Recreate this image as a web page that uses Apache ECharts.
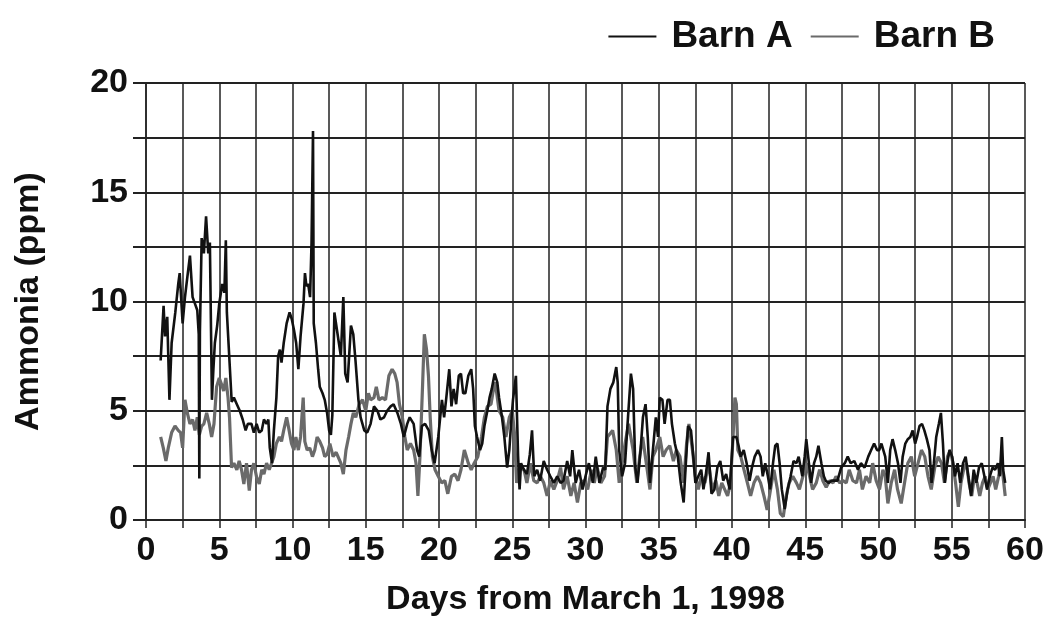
<!DOCTYPE html>
<html>
<head>
<meta charset="utf-8">
<script src="https://cdn.jsdelivr.net/npm/echarts@6/dist/echarts.min.js"></script>
<style>
  html, body { margin: 0; padding: 0; background: #fff; }
  #chart { width: 1050px; height: 639px; }
</style>
</head>
<body>
<div id="chart"></div>
<script>
// Ammonia concentration, [day from March 1 1998, ppm]
const barnA = [
  [1.0,7.3],[1.2,9.8],[1.3,8.4],[1.45,9.3],[1.6,5.5],[1.75,8.1],[2.0,9.5],[2.2,10.8],[2.3,11.3],[2.5,9.0],
  [2.66,10.2],[2.82,11.1],[3.0,12.1],[3.18,10.2],[3.34,9.9],[3.5,9.6],[3.6,8.5],[3.64,1.9],[3.68,8.6],[3.8,12.9],
  [3.95,12.2],[4.1,13.9],[4.25,12.2],[4.36,12.7],[4.5,5.5],[4.6,6.9],[4.7,8.1],[4.86,8.9],[5.0,9.9],[5.2,10.8],
  [5.35,10.4],[5.45,12.8],[5.52,9.5],[5.85,5.4],[6.0,5.6],[6.2,5.3],[6.4,5.0],[6.6,4.6],[6.8,4.1],[6.95,4.4],
  [7.2,4.4],[7.36,4.0],[7.55,4.4],[7.73,4.0],[7.9,4.1],[8.05,4.6],[8.23,4.4],[8.35,4.6],[8.45,3.3],[8.6,2.6],
  [8.73,4.1],[8.9,5.6],[9.02,7.5],[9.14,7.8],[9.25,7.2],[9.4,8.1],[9.6,9.0],[9.8,9.5],[9.95,9.2],[10.1,8.7],
  [10.25,8.1],[10.4,6.9],[10.55,8.4],[10.75,9.9],[10.85,11.3],[10.95,10.7],[11.07,10.8],[11.2,10.2],[11.3,12.7],[11.4,17.8],
  [11.45,9.0],[11.6,8.1],[11.75,6.9],[11.86,6.1],[12.05,5.8],[12.2,5.5],[12.36,4.9],[12.5,4.1],[12.62,3.9],[12.72,4.8],
  [12.86,9.5],[13.1,8.4],[13.3,7.5],[13.47,10.2],[13.6,6.7],[13.76,6.3],[13.99,8.9],[14.15,8.5],[14.3,7.3],[14.5,5.5],
  [14.65,4.7],[14.9,4.1],[15.1,4.0],[15.33,4.4],[15.56,5.2],[15.8,5.0],[16.0,4.6],[16.25,4.7],[16.46,5.0],[16.7,5.2],
  [16.9,5.3],[17.16,4.9],[17.4,4.4],[17.6,3.8],[17.83,4.4],[18.0,4.7],[18.27,4.4],[18.5,3.2],[18.65,2.9],[18.83,4.3],
  [19.05,4.4],[19.3,4.1],[19.5,3.2],[19.7,2.6],[19.95,3.8],[20.2,5.5],[20.35,4.7],[20.5,5.6],[20.7,6.9],[20.85,5.2],
  [21.0,6.0],[21.17,5.3],[21.35,6.6],[21.5,6.7],[21.65,5.8],[21.8,5.8],[22.0,6.6],[22.2,6.9],[22.33,6.0],[22.45,4.3],
  [22.6,3.8],[22.8,3.2],[22.95,3.5],[23.1,4.3],[23.3,5.0],[23.45,5.6],[23.6,6.0],[23.8,6.7],[23.98,6.3],[24.1,5.6],
  [24.3,4.7],[24.46,3.8],[24.65,2.4],[24.8,3.2],[24.92,4.4],[25.05,5.5],[25.25,6.6],[25.4,2.9],[25.5,1.4],[25.6,2.6],
  [25.8,2.3],[26.0,2.1],[26.2,3.0],[26.35,4.1],[26.5,2.0],[26.7,2.3],[26.9,1.8],[27.15,2.7],[27.38,2.3],[27.6,2.0],
  [27.84,1.7],[28.07,2.0],[28.3,1.7],[28.5,1.8],[28.75,2.7],[28.95,2.0],[29.1,3.2],[29.33,1.7],[29.56,2.3],[29.8,1.4],
  [30.0,2.0],[30.23,2.6],[30.5,1.7],[30.7,2.9],[30.95,1.7],[31.2,2.4],[31.35,2.3],[31.5,5.2],[31.7,6.0],[31.9,6.3],
  [32.1,7.0],[32.2,6.3],[32.3,3.2],[32.5,2.0],[32.7,2.6],[32.9,4.7],[33.1,6.7],[33.25,6.0],[33.4,2.4],[33.55,1.7],
  [33.76,3.2],[33.92,4.7],[34.1,5.3],[34.25,3.8],[34.4,1.7],[34.6,3.2],[34.8,4.7],[34.95,3.8],[35.07,5.6],[35.25,5.5],
  [35.4,4.4],[35.6,5.5],[35.76,5.5],[35.9,4.4],[36.1,3.5],[36.3,2.9],[36.5,1.7],[36.7,0.8],[36.85,2.6],[37.0,4.3],
  [37.2,4.1],[37.36,2.9],[37.5,1.7],[37.7,2.0],[37.9,2.3],[38.05,1.4],[38.2,2.0],[38.4,3.1],[38.6,1.2],[38.8,1.4],
  [39.0,2.4],[39.2,2.7],[39.4,1.8],[39.6,2.1],[39.85,1.4],[40.07,3.8],[40.3,3.8],[40.45,3.4],[40.6,2.9],[40.8,3.2],
  [41.0,2.6],[41.2,1.8],[41.36,2.4],[41.55,2.9],[41.77,3.2],[41.95,2.9],[42.1,2.0],[42.27,2.6],[42.45,2.0],[42.6,1.4],
  [42.8,2.6],[42.95,3.4],[43.1,3.5],[43.25,2.6],[43.4,1.4],[43.6,0.5],[43.8,1.4],[44.0,2.0],[44.2,2.7],[44.4,2.6],
  [44.55,2.9],[44.8,2.0],[44.96,2.9],[45.07,3.7],[45.25,2.6],[45.4,1.7],[45.6,2.6],[45.75,2.9],[45.9,3.4],[46.1,2.6],
  [46.27,2.0],[46.4,1.8],[46.6,1.7],[46.8,1.8],[47.0,1.8],[47.2,1.8],[47.45,2.4],[47.7,2.6],[47.9,2.9],[48.1,2.6],
  [48.35,2.7],[48.6,2.3],[48.8,2.6],[49.05,2.4],[49.3,2.9],[49.5,3.2],[49.7,3.5],[49.9,3.2],[50.05,3.2],[50.2,3.5],
  [50.46,2.9],[50.64,1.7],[50.8,3.2],[50.96,3.7],[51.14,3.2],[51.33,2.6],[51.5,1.7],[51.65,2.9],[51.83,3.5],[52.0,3.7],
  [52.17,3.8],[52.33,4.1],[52.5,3.5],[52.63,3.8],[52.8,4.3],[52.97,4.4],[53.13,4.1],[53.3,3.7],[53.48,3.2],[53.62,1.7],
  [53.78,2.6],[53.94,3.8],[54.12,4.4],[54.26,4.9],[54.4,3.5],[54.53,1.7],[54.69,2.6],[54.85,3.2],[55.03,2.9],[55.22,2.0],
  [55.4,2.6],[55.58,1.7],[55.77,2.6],[55.95,2.9],[56.13,2.0],[56.32,1.1],[56.5,2.3],[56.68,1.7],[56.86,2.4],[57.05,2.6],
  [57.23,2.0],[57.41,1.4],[57.6,2.0],[57.78,2.4],[57.96,2.3],[58.15,2.6],[58.28,2.0],[58.42,3.8],[58.51,2.3],[58.65,1.7]
];

const barnB = [
  [1.0,3.8],[1.18,3.3],[1.36,2.7],[1.52,3.3],[1.75,4.0],[1.98,4.3],[2.2,4.1],[2.36,4.0],[2.5,3.3],[2.66,5.5],
  [2.82,4.9],[3.0,4.4],[3.18,4.6],[3.34,4.1],[3.5,4.7],[3.64,3.9],[3.8,4.3],[3.95,4.4],[4.14,4.9],[4.32,4.4],
  [4.48,3.8],[4.64,4.4],[4.82,6.1],[5.0,6.5],[5.16,6.2],[5.3,5.9],[5.45,6.5],[5.6,5.6],[5.7,4.7],[5.84,2.4],
  [6.0,2.6],[6.2,2.3],[6.36,2.7],[6.52,2.3],[6.68,1.65],[6.86,2.6],[7.05,1.35],[7.2,2.3],[7.36,2.6],[7.55,1.96],
  [7.73,1.65],[7.9,2.3],[8.05,2.1],[8.23,2.6],[8.41,2.3],[8.57,2.6],[8.73,2.9],[8.9,3.5],[9.1,3.8],[9.25,3.6],
  [9.4,4.1],[9.6,4.7],[9.77,4.1],[9.93,3.5],[10.1,3.2],[10.23,3.8],[10.4,3.2],[10.55,3.8],[10.73,5.6],[10.84,3.6],
  [11.0,3.2],[11.18,3.3],[11.36,2.9],[11.52,3.2],[11.68,3.8],[11.86,3.6],[12.05,3.3],[12.2,2.9],[12.36,3.0],[12.55,3.5],
  [12.77,2.9],[12.98,3.1],[13.1,3.05],[13.3,2.6],[13.47,2.1],[13.65,3.2],[13.83,3.8],[13.99,4.4],[14.15,4.9],[14.32,4.7],
  [14.55,5.3],[14.78,5.5],[15.0,5.0],[15.18,5.8],[15.33,5.5],[15.56,5.6],[15.72,6.1],[15.9,5.5],[16.13,5.6],[16.35,5.5],
  [16.58,6.6],[16.8,6.9],[16.98,6.7],[17.14,6.3],[17.3,5.3],[17.5,4.7],[17.67,3.8],[17.83,3.2],[18.05,3.5],[18.27,3.2],
  [18.43,2.6],[18.56,1.1],[18.7,2.9],[18.87,6.0],[19.0,8.5],[19.15,7.8],[19.28,6.6],[19.4,4.7],[19.55,2.9],[19.73,2.3],
  [19.95,2.0],[20.18,1.7],[20.4,1.8],[20.6,1.2],[20.85,2.0],[21.08,2.1],[21.3,1.8],[21.5,2.3],[21.73,3.2],[22.0,2.6],
  [22.2,2.3],[22.4,2.6],[22.65,2.9],[22.9,3.8],[23.1,4.7],[23.3,5.2],[23.55,5.3],[23.8,6.3],[23.9,6.0],[24.1,5.0],
  [24.35,4.7],[24.57,3.8],[24.8,4.7],[25.0,5.0],[25.15,4.0],[25.3,1.7],[25.5,2.4],[25.8,2.3],[26.0,1.7],[26.24,2.6],
  [26.47,1.8],[26.7,1.7],[26.92,2.0],[27.15,1.7],[27.38,1.1],[27.6,1.8],[27.84,1.4],[28.07,1.8],[28.3,2.4],[28.5,1.4],
  [28.75,2.0],[29.0,1.1],[29.22,1.7],[29.45,0.8],[29.68,1.7],[29.9,1.8],[30.15,1.4],[30.4,2.3],[30.6,1.7],[30.8,2.4],
  [31.05,1.7],[31.3,2.0],[31.5,3.8],[31.85,4.1],[32.1,3.2],[32.3,1.7],[32.7,3.5],[32.94,4.4],[33.25,3.2],[33.5,1.7],
  [33.7,2.9],[33.9,3.8],[34.15,2.6],[34.4,1.4],[34.6,2.9],[34.8,3.2],[35.07,3.8],[35.3,2.9],[35.5,3.2],[35.75,3.4],
  [36.0,2.7],[36.2,3.2],[36.45,2.9],[36.7,1.7],[36.9,3.5],[37.06,4.4],[37.3,3.2],[37.5,2.0],[37.7,1.4],[37.9,2.0],
  [38.15,1.7],[38.4,2.6],[38.65,1.4],[38.9,1.8],[39.1,1.1],[39.3,1.7],[39.5,1.4],[39.7,1.1],[39.9,1.7],[40.07,3.8],
  [40.2,5.6],[40.3,5.3],[40.4,3.2],[40.6,2.9],[40.82,2.3],[41.05,1.7],[41.27,1.1],[41.5,1.7],[41.73,2.0],[41.95,1.7],
  [42.18,1.1],[42.4,0.46],[42.63,1.4],[42.86,2.3],[43.1,1.4],[43.3,0.3],[43.5,0.15],[43.7,1.1],[43.9,1.7],[44.15,2.0],
  [44.4,1.7],[44.6,1.4],[44.84,2.0],[45.07,2.6],[45.3,2.0],[45.5,1.4],[45.75,1.7],[45.98,2.3],[46.2,1.8],[46.43,1.5],
  [46.66,1.8],[46.9,1.7],[47.1,2.0],[47.35,1.7],[47.57,1.8],[47.8,1.7],[48.0,2.3],[48.25,1.8],[48.5,1.7],[48.7,2.3],
  [48.9,1.4],[49.15,2.0],[49.4,1.7],[49.6,2.6],[49.84,1.8],[50.07,1.4],[50.3,2.3],[50.46,2.0],[50.64,0.76],[50.87,1.7],
  [51.1,2.3],[51.3,1.4],[51.55,0.76],[51.8,1.8],[52.0,2.6],[52.24,2.9],[52.47,2.0],[52.7,2.6],[52.93,3.2],[53.16,2.9],
  [53.38,2.0],[53.6,1.4],[53.84,2.4],[54.07,2.9],[54.3,2.6],[54.5,1.7],[54.71,2.9],[54.9,3.2],[55.08,2.6],[55.26,1.7],
  [55.45,0.6],[55.63,1.7],[55.81,2.3],[56.0,2.6],[56.18,1.7],[56.36,1.1],[56.55,2.0],[56.73,1.7],[56.91,1.1],[57.1,1.7],
  [57.28,2.0],[57.46,1.4],[57.64,1.7],[57.82,2.0],[58.0,1.4],[58.2,2.0],[58.35,2.6],[58.5,2.0],[58.65,1.1]
];

const seriesNames = ['Barn A', 'Barn B'];
const xTitle = 'Days from March 1, 1998';
const yTitle = 'Ammonia (ppm)';

const FONT = '"Liberation Sans", Arial, Helvetica, sans-serif';
const INK = '#111';
const GRID = '#222';

const chart = echarts.init(document.getElementById('chart'), null, { renderer: 'canvas' });

chart.setOption({
  animation: false,
  backgroundColor: '#fff',
  textStyle: { fontFamily: FONT },
  legend: {
    data: seriesNames,
    right: 50,
    top: 13,
    icon: 'rect',
    itemWidth: 48,
    itemHeight: 2,
    itemGap: 18,
    textStyle: { fontFamily: FONT, fontWeight: 'bold', fontSize: 37, color: INK, padding: [0, 0, 0, 10] }
  },
  grid: { left: 146, right: 25, top: 83, bottom: 119, containLabel: false, outerBoundsMode: 'none' },
  xAxis: {
    type: 'value',
    min: 0, max: 60, interval: 2.5,
    name: xTitle,
    nameLocation: 'middle',
    nameGap: 63,
    nameMoveOverlap: false,
    nameTextStyle: { fontFamily: FONT, fontWeight: 'bold', fontSize: 34, color: INK },
    axisLine: { show: true, onZero: false, lineStyle: { color: GRID, width: 2 } },
    axisTick: { show: true, inside: false, length: 8, lineStyle: { color: GRID, width: 1.5 } },
    axisLabel: {
      margin: 14, fontFamily: FONT, fontWeight: 'bold', fontSize: 34, color: INK,
      hideOverlap: false, showMinLabel: true, showMaxLabel: true,
      formatter: v => (Math.abs(v % 5) < 1e-6 ? String(v) : '')
    },
    splitLine: { show: true, lineStyle: { color: GRID, width: 1.5 } }
  },
  yAxis: {
    type: 'value',
    min: 0, max: 20, interval: 2.5,
    name: yTitle,
    nameLocation: 'middle',
    nameRotate: 90,
    nameGap: 100,
    nameMoveOverlap: false,
    nameTextStyle: { fontFamily: FONT, fontWeight: 'bold', fontSize: 34, color: INK },
    axisLine: { show: true, lineStyle: { color: GRID, width: 1.5 } },
    axisTick: { show: true, inside: false, length: 13, lineStyle: { color: GRID, width: 2 } },
    axisLabel: {
      margin: 18, fontFamily: FONT, fontWeight: 'bold', fontSize: 34, color: INK,
      hideOverlap: false,
      formatter: v => (Math.abs(v % 5) < 1e-6 ? String(v) : '')
    },
    splitLine: { show: true, lineStyle: { color: GRID, width: 2 } }
  },
  series: [
    {
      name: seriesNames[1],
      type: 'line',
      data: barnB,
      showSymbol: false,
      symbol: 'none',
      z: 2,
      color: '#6a6a6a',
      lineStyle: { color: '#6a6a6a', width: 3.2 }
    },
    {
      name: seriesNames[0],
      type: 'line',
      data: barnA,
      showSymbol: false,
      symbol: 'none',
      z: 3,
      color: '#111',
      lineStyle: { color: '#111', width: 2.6 }
    }
  ]
});
</script>
</body>
</html>
